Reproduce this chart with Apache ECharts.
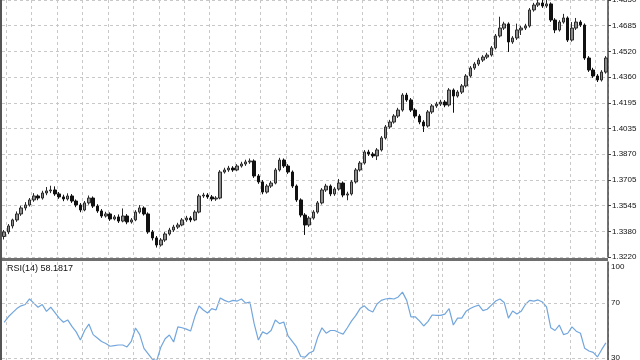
<!DOCTYPE html>
<html><head><meta charset="utf-8">
<script src="https://cdn.jsdelivr.net/npm/echarts@6/dist/echarts.min.js"></script>
<style>html,body{margin:0;padding:0;background:#fff}#c{width:640px;height:360px}</style>
</head><body><div id="c"></div>
<script>
// ---- data ----
const priceTicks = ['1.3220','1.3380','1.3545','1.3705','1.3870','1.4035','1.4195','1.4360','1.4520','1.4685','1.4850'];
const rsiTicks = [100, 70, 30];
const rsiTitle = 'RSI(14) 58.1817';

const opens = [1.3350,1.3379,1.3417,1.3455,1.3493,1.3531,1.3550,1.3582,1.3607,1.3594,
 1.3626,1.3639,1.3645,1.3620,1.3601,1.3588,1.3607,1.3575,1.3550,1.3518,
 1.3563,1.3594,1.3543,1.3512,1.3480,1.3493,1.3461,1.3474,1.3448,1.3480,
 1.3442,1.3455,1.3505,1.3531,1.3493,1.3379,1.3341,1.3296,1.3328,1.3366,
 1.3391,1.3410,1.3423,1.3455,1.3467,1.3455,1.3505,1.3607,1.3613,1.3601,
 1.3588,1.3594,1.3759,1.3772,1.3784,1.3772,1.3797,1.3810,1.3823,1.3829,
 1.3734,1.3696,1.3632,1.3670,1.3689,1.3772,1.3835,1.3797,1.3759,1.3670,
 1.3582,1.3486,1.3423,1.3467,1.3505,1.3563,1.3645,1.3670,1.3620,1.3651,
 1.3689,1.3613,1.3620,1.3696,1.3772,1.3816,1.3886,1.3873,1.3861,1.3899,
 1.3975,1.4045,1.4076,1.4114,1.4152,1.4247,1.4216,1.4152,1.4114,1.4076,
 1.4051,1.4140,1.4178,1.4190,1.4203,1.4184,1.4279,1.4241,1.4266,1.4305,
 1.4368,1.4419,1.4444,1.4469,1.4488,1.4501,1.4546,1.4622,1.4672,1.4698,
 1.4584,1.4609,1.4660,1.4672,1.4685,1.4787,1.4818,1.4831,1.4812,1.4825,
 1.4723,1.4660,1.4710,1.4736,1.4596,1.4672,1.4710,1.4691,1.4482,1.4406,
 1.4368,1.4343,1.4393];
const closes = [1.3379,1.3417,1.3455,1.3493,1.3531,1.3550,1.3582,1.3607,1.3594,1.3626,
 1.3639,1.3645,1.3620,1.3601,1.3588,1.3607,1.3575,1.3550,1.3518,1.3563,
 1.3594,1.3543,1.3512,1.3480,1.3493,1.3461,1.3474,1.3448,1.3480,1.3442,
 1.3455,1.3505,1.3531,1.3493,1.3379,1.3341,1.3296,1.3328,1.3366,1.3391,
 1.3410,1.3423,1.3455,1.3467,1.3455,1.3505,1.3607,1.3613,1.3601,1.3588,
 1.3594,1.3759,1.3772,1.3784,1.3772,1.3797,1.3810,1.3823,1.3829,1.3734,
 1.3696,1.3632,1.3670,1.3689,1.3772,1.3835,1.3797,1.3759,1.3670,1.3582,
 1.3486,1.3423,1.3467,1.3505,1.3563,1.3645,1.3670,1.3620,1.3651,1.3689,
 1.3613,1.3620,1.3696,1.3772,1.3816,1.3886,1.3873,1.3861,1.3899,1.3975,
 1.4045,1.4076,1.4114,1.4152,1.4247,1.4216,1.4152,1.4114,1.4076,1.4051,
 1.4140,1.4178,1.4190,1.4203,1.4184,1.4279,1.4241,1.4266,1.4305,1.4368,
 1.4419,1.4444,1.4469,1.4488,1.4501,1.4546,1.4622,1.4672,1.4698,1.4584,
 1.4609,1.4660,1.4672,1.4685,1.4787,1.4818,1.4831,1.4812,1.4825,1.4723,
 1.4660,1.4710,1.4736,1.4596,1.4672,1.4710,1.4691,1.4482,1.4406,1.4368,
 1.4343,1.4393,1.4482];
const highs = [1.3391,1.3429,1.3463,1.3509,1.3545,1.3568,1.3594,1.3625,1.3617,1.3640,
 1.3664,1.3672,1.3668,1.3632,1.3615,1.3624,1.3619,1.3585,1.3562,1.3575,
 1.3610,1.3604,1.3555,1.3524,1.3507,1.3503,1.3486,1.3490,1.3528,1.3492,
 1.3467,1.3517,1.3549,1.3541,1.3503,1.3391,1.3353,1.3340,1.3378,1.3405,
 1.3424,1.3437,1.3467,1.3481,1.3479,1.3517,1.3619,1.3627,1.3625,1.3613,
 1.3606,1.3771,1.3786,1.3798,1.3796,1.3809,1.3824,1.3837,1.3845,1.3839,
 1.3746,1.3708,1.3682,1.3703,1.3784,1.3849,1.3845,1.3809,1.3769,1.3680,
 1.3592,1.3498,1.3479,1.3517,1.3575,1.3657,1.3684,1.3680,1.3663,1.3715,
 1.3699,1.3634,1.3708,1.3784,1.3828,1.3898,1.3900,1.3885,1.3911,1.3987,
 1.4057,1.4090,1.4126,1.4166,1.4259,1.4261,1.4228,1.4164,1.4126,1.4088,
 1.4152,1.4190,1.4204,1.4217,1.4215,1.4291,1.4289,1.4278,1.4317,1.4380,
 1.4431,1.4456,1.4483,1.4500,1.4515,1.4558,1.4634,1.4744,1.4712,1.4708,
 1.4621,1.4700,1.4686,1.4699,1.4799,1.4832,1.4855,1.4851,1.4850,1.4835,
 1.4735,1.4722,1.4762,1.4746,1.4710,1.4736,1.4722,1.4701,1.4494,1.4420,
 1.4380,1.4405,1.4494];
const lows = [1.3331,1.3365,1.3401,1.3443,1.3481,1.3515,1.3540,1.3570,1.3580,1.3584,
 1.3612,1.3625,1.3608,1.3589,1.3574,1.3578,1.3563,1.3536,1.3504,1.3510,
 1.3552,1.3531,1.3500,1.3468,1.3470,1.3449,1.3452,1.3436,1.3440,1.3428,
 1.3432,1.3447,1.3495,1.3483,1.3367,1.3325,1.3280,1.3286,1.3316,1.3356,
 1.3379,1.3398,1.3415,1.3443,1.3441,1.3447,1.3497,1.3595,1.3589,1.3574,
 1.3576,1.3586,1.3749,1.3760,1.3760,1.3764,1.3787,1.3798,1.3811,1.3722,
 1.3684,1.3618,1.3622,1.3658,1.3681,1.3762,1.3785,1.3747,1.3658,1.3570,
 1.3472,1.3360,1.3411,1.3457,1.3495,1.3553,1.3633,1.3606,1.3608,1.3641,
 1.3599,1.3580,1.3610,1.3686,1.3762,1.3806,1.3861,1.3849,1.3835,1.3889,
 1.3965,1.4033,1.4066,1.4102,1.4142,1.4204,1.4140,1.4100,1.4062,1.4013,
 1.4041,1.4128,1.4166,1.4178,1.4170,1.4174,1.4135,1.4231,1.4254,1.4295,
 1.4358,1.4407,1.4432,1.4457,1.4476,1.4491,1.4536,1.4612,1.4660,1.4520,
 1.4572,1.4597,1.4628,1.4660,1.4675,1.4776,1.4806,1.4800,1.4800,1.4711,
 1.4640,1.4650,1.4700,1.4584,1.4586,1.4660,1.4679,1.4470,1.4394,1.4356,
 1.4330,1.4333,1.4383];
const rsi = [56,60,63,66,68,69,73,70,67,69,
 64,67,63,59,56,57.7,53,49,43,50,
 54.7,47,44.5,42,40.5,38.5,39,39.4,39.4,38,
 42,51.8,47,37,33,29,28,38,44,46.7,
 41.6,52.6,52,51,49.6,60,67.9,65,62.8,66,
 65,73.7,72,70.8,72,71.5,73,70,70.8,55,
 43,49,47.5,50,57.7,55,56.2,46,42,38,
 31,30.5,33.6,35,45,52,48,50,50,48.5,
 47.4,52,57,61,66,68,65,63.5,69.3,72,
 73,73.5,73,74.5,78,72,59.9,60,57,53.3,
 56.5,61.3,61,61,62,66,54,59,59,64,
 66,67.5,68.5,64.5,65.5,68.5,71.5,73,70.5,59,
 64.2,62,64,69,72,71.5,72.3,70.8,67.2,52,
 50,54,47,48,52.6,49.5,48,37,35,34,
 30.7,36,41];

// ---- chart ----
const cats = closes.map((_, i) => i);
const candles = closes.map((c, i) => [opens[i], c, lows[i], highs[i]]);
const gridColor = '#c8c8c8';
const vGrid = (i) => (i <= 103 ? i % 6 === 1 : i % 6 === 2);
const font = 'Liberation Sans, Arial, sans-serif';

const chart = echarts.init(document.getElementById('c'), null, {renderer: 'canvas'});
chart.setOption({
  animation: false,
  backgroundColor: '#ffffff',
  grid: [
    {left: 2, top: 0, width: 606, height: 257, outerBoundsMode: 'none', containLabel: false},
    {left: 2, top: 262, width: 606, height: 137, outerBoundsMode: 'none', containLabel: false}
  ],
  xAxis: [0, 1].map(g => ({
    type: 'category', gridIndex: g, data: cats, boundaryGap: true,
    axisLine: {show: false}, axisTick: {show: false}, axisLabel: {show: false},
    splitLine: {show: true, interval: vGrid, lineStyle: {color: gridColor, type: [3, 3], width: 1}}
  })),
  yAxis: [
    {
      type: 'value', gridIndex: 0, position: 'right', min: 0, max: 10, interval: 1,
      axisLine: {show: true, lineStyle: {color: '#444', width: 1.5}},
      axisTick: {show: true, length: 3, lineStyle: {color: '#444'}},
      axisLabel: {show: true, margin: 4, color: '#111', fontSize: 8, fontFamily: font,
        formatter: v => priceTicks[Math.round(v)]},
      splitLine: {show: true, lineStyle: {color: gridColor, type: [3, 3], width: 1}}
    },
    {type: 'value', gridIndex: 0, min: 1.3220, max: 1.4850, show: false,
      splitLine: {show: false}},
    {
      type: 'value', gridIndex: 1, position: 'right', min: 0, max: 100, interval: 10,
      axisLine: {show: true, lineStyle: {color: '#444', width: 1.5}},
      axisTick: {show: false},
      axisLabel: {show: true, margin: 3, color: '#111', fontSize: 8, fontFamily: font,
        formatter: v => (rsiTicks.indexOf(v) < 0 ? '' : (v === 100 ? '{a|100}' : String(v))),
        rich: {a: {fontSize: 8, fontFamily: font, color: '#111', padding: [10, 0, 0, 0]}}},
      splitLine: {show: false}
    }
  ],
  series: [
    {
      type: 'candlestick', xAxisIndex: 0, yAxisIndex: 1, data: candles,
      barWidth: 3,
      itemStyle: {color: '#8c8c8c', borderColor: '#2a2a2a', color0: '#111', borderColor0: '#111', borderWidth: 1}
    },
    {
      type: 'line', xAxisIndex: 1, yAxisIndex: 2, data: rsi,
      showSymbol: false, symbol: 'none',
      lineStyle: {color: '#72a6dc', width: 1.2},
      markLine: {
        silent: true, symbol: 'none', label: {show: false},
        lineStyle: {color: gridColor, type: [3, 3], width: 1},
        data: [{yAxis: 70}, {yAxis: 30}]
      }
    }
  ],
  graphic: [
    {type: 'rect', left: 0, top: 258, shape: {width: 608, height: 3}, style: {fill: '#6f6f6f'}, z: 100},
    {type: 'rect', left: 0, top: 0, shape: {width: 2, height: 360}, style: {fill: '#555'}, z: 100},
    {type: 'text', left: 7, top: 264, style: {text: rsiTitle, fontSize: 9, fontFamily: font, fill: '#111'}, z: 100}
  ]
});
</script>
</body></html>
